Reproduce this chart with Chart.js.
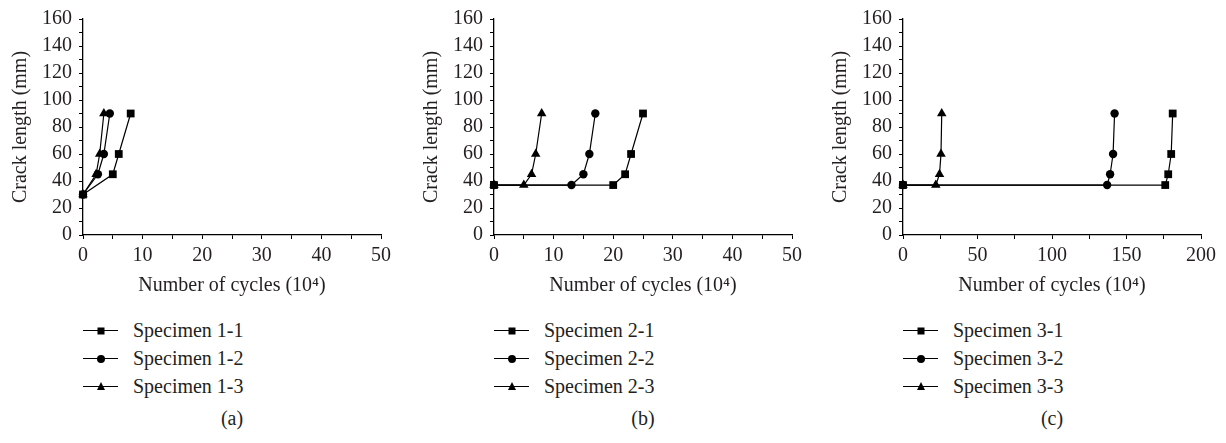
<!DOCTYPE html>
<html>
<head>
<meta charset="utf-8">
<script src="https://cdn.jsdelivr.net/npm/chart.js@4.4.1/dist/chart.umd.min.js"></script>
<style>
  body { margin: 0; background: #fff; width: 1226px; height: 443px; position: relative; overflow: hidden;
         font-family: "Liberation Serif", "DejaVu Serif", serif; color: #231f20; }
  .panel { position: absolute; top: 0; width: 409px; height: 443px; }
  .panel canvas { position: absolute; left: 0; top: 0; }
  .legend { position: absolute; left: 83px; top: 316px; }
  .row { height: 28px; display: flex; align-items: center; font-size: 20px; white-space: nowrap; }
  .key { position: relative; width: 35px; height: 28px; margin-right: 15px; }
  .key .ln { position: absolute; left: 0; right: 0; top: 14px; border-top: 1px solid #000; }
  .mk { position: absolute; left: 50%; top: 14.5px; transform: translate(-50%, -50%); }
  .sq { width: 7px; height: 7px; background: #000; }
  .ci { width: 8px; height: 8px; background: #000; border-radius: 50%; }
  .tr { width: 0; height: 0; border-left: 4.5px solid transparent; border-right: 4.5px solid transparent;
        border-bottom: 8px solid #000; top: 13.5px; }
  .cap { position: absolute; left: 83px; width: 298px; top: 407px; text-align: center; font-size: 20px; }
</style>
</head>
<body>
<div class="panel" id="pa" style="left:0px"><canvas id="ca" width="409" height="305"></canvas></div>
<div class="panel" id="pb" style="left:411px"><canvas id="cb" width="409" height="305"></canvas></div>
<div class="panel" id="pc" style="left:820px"><canvas id="cc" width="409" height="305"></canvas></div>
<script>
// crack length (mm)
const crackA = [30, 45, 60, 90];
const crackBC = [37, 37, 45, 60, 90];
// number of cycles (10^4)
const cycles1_1 = [0, 5, 6, 8];
const cycles1_2 = [0, 2.5, 3.5, 4.5];
const cycles1_3 = [0, 2.2, 2.8, 3.5];
const cycles2_1 = [0, 20, 22, 23, 25];
const cycles2_2 = [0, 13, 15, 16, 17];
const cycles2_3 = [0, 5, 6.3, 7, 8];
const cycles3_1 = [0, 176, 178, 180, 181];
const cycles3_2 = [0, 137, 139, 141, 142];
const cycles3_3 = [0, 22, 24.5, 25.5, 26];

const yTicks = [0, 20, 40, 60, 80, 100, 120, 140, 160];
const xTicksAB = [0, 10, 20, 30, 40, 50];
const xTicksC = [0, 50, 100, 150, 200];

const markers = ['rect', 'circle', 'triangle'];
const markerCss = ['sq', 'ci', 'tr'];
const markerRadius = [5.5, 4.2, 5.5];

const font = { family: '"Liberation Serif", "DejaVu Serif", serif', size: 20 };
const ink = '#231f20';

function pts(xs, ys) {
    return xs.map((x, i) => ({ x: x, y: ys[i] }));
}

function makeChart(id, labels, series, xTicks) {
    let xMax = xTicks[xTicks.length - 1];
    let xStep = (xTicks[1] - xTicks[0]) / 2;
    let ctx = document.getElementById(id).getContext('2d');
    return new Chart(ctx, {
        type: 'scatter',
        data: {
            datasets: series.map((s, i) => ({
                label: labels[i],
                data: s,
                showLine: true,
                borderColor: '#000',
                borderWidth: 1.2,
                pointStyle: markers[i],
                pointRadius: markerRadius[i],
                pointBackgroundColor: '#000',
                pointBorderColor: '#000',
                pointBorderWidth: 0,
                clip: false
            }))
        },
        options: {
            responsive: false,
            animation: false,
            layout: { padding: { top: 16, right: 28, left: 0, bottom: 0 } },
            plugins: { legend: { display: false }, tooltip: { enabled: false } },
            scales: {
                x: {
                    type: 'linear', min: 0, max: xMax,
                    afterFit: (s) => { s.height = 70; },
                    border: { color: '#000', width: 1.3 },
                    grid: { drawOnChartArea: false, drawTicks: true, tickLength: 4, color: '#000' },
                    ticks: {
                        stepSize: xStep, autoSkip: false, maxRotation: 0, padding: 5,
                        color: ink, font: font,
                        callback: (v) => xTicks.includes(v) ? v : ''
                    },
                    title: { display: true, text: 'Number of cycles (10\u2074)', color: ink, font: font,
                             padding: { top: 0, bottom: 7 } }
                },
                y: {
                    type: 'linear', min: 0, max: 160,
                    afterFit: (s) => { s.width = 83; },
                    border: { color: '#000', width: 1.3 },
                    grid: { drawOnChartArea: false, drawTicks: true, tickLength: 4, color: '#000' },
                    ticks: {
                        stepSize: 10, autoSkip: false, padding: 7,
                        color: ink, font: font,
                        callback: (v) => yTicks.includes(v) ? v : ''
                    },
                    title: { display: true, text: 'Crack length (mm)', color: ink, font: font,
                             padding: { top: 9, bottom: 0 } }
                }
            }
        }
    });
}

function makeLegend(panelId, labels, caption) {
    let panel = document.getElementById(panelId);
    let lg = document.createElement('div');
    lg.className = 'legend';
    labels.forEach((name, i) => {
        let row = document.createElement('div');
        row.className = 'row';
        row.innerHTML = '<div class="key"><div class="ln"></div><div class="mk ' + markerCss[i] + '"></div></div><span>' + name + '</span>';
        lg.appendChild(row);
    });
    panel.appendChild(lg);
    let cap = document.createElement('div');
    cap.className = 'cap';
    cap.textContent = caption;
    panel.appendChild(cap);
}

const labelsA = ['Specimen 1-1', 'Specimen 1-2', 'Specimen 1-3'];
const labelsB = ['Specimen 2-1', 'Specimen 2-2', 'Specimen 2-3'];
const labelsC = ['Specimen 3-1', 'Specimen 3-2', 'Specimen 3-3'];

makeChart('ca', labelsA, [pts(cycles1_1, crackA), pts(cycles1_2, crackA), pts(cycles1_3, crackA)], xTicksAB);
makeChart('cb', labelsB, [pts(cycles2_1, crackBC), pts(cycles2_2, crackBC), pts(cycles2_3, crackBC)], xTicksAB);
makeChart('cc', labelsC, [pts(cycles3_1, crackBC), pts(cycles3_2, crackBC), pts(cycles3_3, crackBC)], xTicksC);

makeLegend('pa', labelsA, '(a)');
makeLegend('pb', labelsB, '(b)');
makeLegend('pc', labelsC, '(c)');
</script>
</body>
</html>
